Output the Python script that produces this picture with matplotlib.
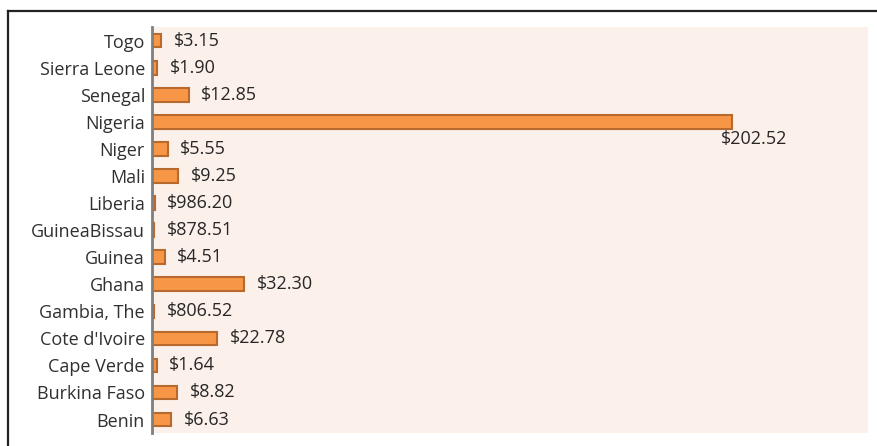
import matplotlib.pyplot as plt
from matplotlib.lines import Line2D
import numpy as np

# countries listed bottom to top, as the chart draws them
countries = ["Benin", "Burkina Faso", "Cape Verde", "Cote d'Ivoire", "Gambia, The",
             "Ghana", "Guinea", "GuineaBissau", "Liberia", "Mali", "Niger",
             "Nigeria", "Senegal", "Sierra Leone", "Togo"]
# bar lengths in billions (small economies are in millions on their labels)
gdp = [6.63, 8.82, 1.64, 22.78, 0.80652, 32.30, 4.51, 0.87851, 0.98620,
       9.25, 5.55, 202.52, 12.85, 1.90, 3.15]
labels = ["$6.63", "$8.82", "$1.64", "$22.78", "$806.52", "$32.30", "$4.51",
          "$878.51", "$986.20", "$9.25", "$5.55", "$202.52", "$12.85", "$1.90", "$3.15"]

plt.rcParams['font.family'] = ['Open Sans', 'DejaVu Sans']

fig = plt.figure(figsize=(8.78, 4.46), dpi=100)
ax = fig.add_axes([0.173, 0.029, 0.816, 0.910])
ax.set_facecolor('#fcf0ea')

y = np.arange(len(countries))
ax.barh(y, gdp, height=0.5, color='#f79646', edgecolor='#b8692e', linewidth=1.5)

for yi, v, lab, name in zip(y, gdp, labels, countries):
    if name == "Nigeria":
        ax.annotate(lab, (v, yi), xytext=(-8, -6), textcoords='offset points',
                    ha='left', va='top', fontsize=13, color='#262626')
    else:
        ax.annotate(lab, (v, yi), xytext=(9, 0), textcoords='offset points',
                    ha='left', va='center', fontsize=13, color='#262626')

ax.set_yticks(y)
ax.set_yticklabels(countries, fontsize=13, color='#303030')
ax.tick_params(axis='y', length=0, pad=5)
ax.set_xticks([])
ax.set_xlim(0, 250)
ax.set_ylim(-0.5, 14.5)

for s in ['top', 'right', 'bottom']:
    ax.spines[s].set_visible(False)
ax.spines['left'].set_color('#7f7f7f')
ax.spines['left'].set_linewidth(2)

# outer frame, only the top and left edges show in the crop
fig.add_artist(Line2D([8 / 878, 1], [1 - 11 / 446, 1 - 11 / 446], color='#222222', lw=1.6))
fig.add_artist(Line2D([8 / 878, 8 / 878], [0, 1 - 11 / 446], color='#222222', lw=1.6))

fig.savefig('out.png', dpi=100)
